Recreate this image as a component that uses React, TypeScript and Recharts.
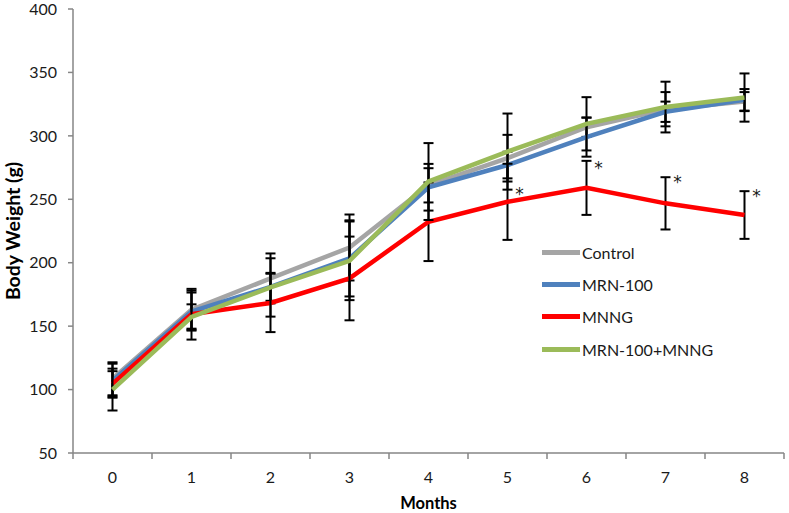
import React from "react";
import { LineChart, Line, XAxis, YAxis, ErrorBar, LabelList } from "recharts";

// values (g)
const months = [0, 1, 2, 3, 4, 5, 6, 7, 8];
const control = [108.5, 163, 187.6, 212, 261, 282.4, 306.8, 321, 327];
const controlErr = [13, 15, 19.7, 26, 13.5, 18.4, 7.6, 13.5, 7.5];
const mrn = [107, 161.5, 181, 203.4, 259.5, 277, 299, 319, 328.4];
const mrnErr = [13.4, 15, 11, 30, 18.4, 10.5, 15.4, 8, 8.5];
const mnng = [104.5, 159.4, 168.3, 187.6, 232.3, 248, 259, 246.8, 237.6];
const mnngErr = [10, 20, 23, 33, 31, 30, 21.3, 20.6, 18.8];
const combo = [100, 157.2, 180.5, 201.5, 264, 287.6, 309.5, 322.7, 330.2];
const comboErr = [16.5, 10, 23, 31, 30.3, 30, 21, 20, 19];
// where the significance asterisks sit
const starLevel = [null, null, null, null, null, 257, 278, 267, 256];

const yTicks = [50, 100, 150, 200, 250, 300, 350, 400];
const xTicks = [-0.5, 0, 0.5, 1, 1.5, 2, 2.5, 3, 3.5, 4, 4.5, 5, 5.5, 6, 6.5, 7, 7.5, 8, 8.5];

const series = [
  { key: "control", name: "Control", color: "#a5a5a5" },
  { key: "mrn", name: "MRN-100", color: "#4f81bd" },
  { key: "mnng", name: "MNNG", color: "#ff0000" },
  { key: "combo", name: "MRN-100+MNNG", color: "#9bbb59" },
];

const data = months.map((m, i) => ({
  month: m,
  control: control[i],
  controlErr: controlErr[i],
  mrn: mrn[i],
  mrnErr: mrnErr[i],
  mnng: mnng[i],
  mnngErr: mnngErr[i],
  combo: combo[i],
  comboErr: comboErr[i],
  star: starLevel[i],
}));

const FONT = "Lato, 'Open Sans', sans-serif";
const AXIS = "#868686";

const XTick = ({ x, y, payload }: any) => {
  const v = payload.value;
  if (Number.isInteger(v)) {
    return (
      <text x={x} y={y + 29.5} textAnchor="middle" fontSize={16} fontFamily={FONT} fill="#1a1a1a">
        {v}
      </text>
    );
  }
  return <line x1={x} x2={x} y1={y} y2={y + 6} stroke={AXIS} strokeWidth={1.5} />;
};

const YLabel = ({ viewBox }: any) => {
  const cx = viewBox.x + 12.5;
  const cy = viewBox.y + viewBox.height / 2;
  return (
    <text
      x={cx}
      y={cy}
      transform={`rotate(-90, ${cx}, ${cy})`}
      textAnchor="middle"
      dominantBaseline="central"
      fontSize={19.5}
      fontWeight="bold"
      fontFamily={FONT}
      fill="#000"
    >
      Body Weight (g)
    </text>
  );
};

const Star = ({ x, y, value }: any) => {
  if (value == null || y == null) return null;
  return (
    <text
      x={x + 12}
      y={y + 10}
      textAnchor="middle"
      fontSize={17}
      fontFamily="'DejaVu Sans', sans-serif"
      fill="#1a1a1a"
    >
      *
    </text>
  );
};

export default function App() {
  return (
    <div style={{ position: "absolute", left: 0, top: 0, width: 789, height: 513, background: "#fff" }}>
      <LineChart width={789} height={513} data={data} margin={{ top: 9, right: 5, left: 0, bottom: 0 }}>
        <XAxis
          dataKey="month"
          type="number"
          domain={[-0.5, 8.5]}
          ticks={xTicks}
          interval={0}
          tick={<XTick />}
          tickLine={false}
          tickSize={0}
          tickMargin={0}
          height={60}
          axisLine={{ stroke: AXIS, strokeWidth: 1.5 }}
          label={{
            value: "Months",
            position: "insideBottom",
            offset: 4,
            fontSize: 16.5,
            fontWeight: "bold",
            fontFamily: FONT,
            fill: "#000",
          }}
        />
        <YAxis
          domain={[50, 400]}
          ticks={yTicks}
          interval={0}
          width={73}
          tickSize={5}
          tickMargin={11}
          tick={{ fontSize: 16, fontFamily: FONT, fill: "#1a1a1a" }}
          tickLine={{ stroke: AXIS, strokeWidth: 1.5 }}
          axisLine={{ stroke: AXIS, strokeWidth: 1.5 }}
          label={<YLabel />}
        />
        {series.map((s) => (
          <Line
            key={s.key}
            type="linear"
            dataKey={s.key}
            name={s.name}
            stroke={s.color}
            strokeWidth={4.5}
            dot={false}
            activeDot={false}
            isAnimationActive={false}
          >
            <ErrorBar
              dataKey={`${s.key}Err`}
              direction="y"
              width={5}
              stroke="#000"
              strokeWidth={2}
              isAnimationActive={false}
            />
          </Line>
        ))}
        <Line
          dataKey="star"
          stroke="none"
          dot={false}
          activeDot={false}
          legendType="none"
          isAnimationActive={false}
        >
          <LabelList dataKey="star" content={<Star />} />
        </Line>
      </LineChart>
      <div style={{ position: "absolute", left: 542, top: 236.5, fontFamily: FONT }}>
        {series.map((s) => (
          <div key={s.key} style={{ display: "flex", alignItems: "center", height: 32.2 }}>
            <div style={{ width: 38, height: 5, background: s.color, marginRight: 2 }} />
            <span style={{ fontSize: 16, color: "#1a1a1a" }}>{s.name}</span>
          </div>
        ))}
      </div>
    </div>
  );
}
